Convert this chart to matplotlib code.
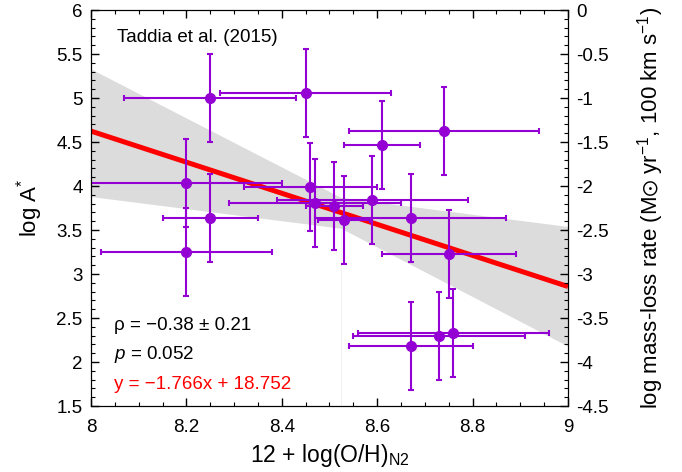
import numpy as np
import matplotlib
matplotlib.use("Agg")
import matplotlib.pyplot as plt
from matplotlib.ticker import MultipleLocator, FuncFormatter

plt.rcParams['font.family'] = ['Liberation Sans', 'DejaVu Sans']
plt.rcParams['mathtext.fontset'] = 'custom'
plt.rcParams['mathtext.rm'] = 'Liberation Sans'
plt.rcParams['mathtext.it'] = 'Liberation Sans:italic'
plt.rcParams['mathtext.fallback'] = 'stixsans'
plt.rcParams['axes.unicode_minus'] = False

# data
oh = [8.25, 8.45, 8.74, 8.61, 8.20, 8.25, 8.46, 8.47, 8.59, 8.51, 8.53, 8.67, 8.75, 8.20, 8.67, 8.73, 8.76]
logA = [5.00, 5.06, 4.63, 4.47, 4.03, 3.64, 3.99, 3.81, 3.84, 3.77, 3.61, 3.64, 3.23, 3.25, 2.18, 2.29, 2.33]
oh_err = [0.18, 0.18, 0.20, 0.08, 0.20, 0.10, 0.14, 0.18, 0.20, 0.06, 0.055, 0.20, 0.14, 0.18, 0.13, 0.18, 0.20]
logA_err = [0.5] * 17

slope = -1.766
intercept = 18.752

band_x = [8.0, 8.524, 9.0]
band_hi = [5.33, 3.87, 3.54]
band_lo = [3.88, 3.52, 2.18]

purple = '#9400D3'

fig = plt.figure(figsize=(6.82, 4.72), dpi=100)
ax = fig.add_axes([0.1334, 0.1398, 0.6994, 0.839])

ax.fill_between(band_x, band_lo, band_hi, color='#dcdcdc', lw=0, zorder=1)
ax.plot([band_x[1], band_x[1]], [1.5, band_lo[1]], color='#f0f0f0', lw=0.6, zorder=1)

xf = np.array([8.0, 9.0])
ax.plot(xf, slope * xf + intercept, color='red', lw=3.6, zorder=2, solid_capstyle='butt')

ax.errorbar(oh, logA, xerr=oh_err, yerr=logA_err, fmt='o', color=purple,
            ms=7, elinewidth=1.5, capsize=2.5, capthick=1.5, zorder=3)

ax.set_xlim(8, 9)
ax.set_ylim(1.5, 6)
ax.xaxis.set_major_locator(MultipleLocator(0.2))
ax.xaxis.set_minor_locator(MultipleLocator(0.05))
ax.yaxis.set_major_locator(MultipleLocator(0.5))
ax.yaxis.set_minor_locator(MultipleLocator(0.1))
fmt = FuncFormatter(lambda v, p: '%g' % round(v, 2))
ax.xaxis.set_major_formatter(fmt)
ax.yaxis.set_major_formatter(fmt)
ax.tick_params(which='both', direction='in', top=True, labelsize=13.5, pad=6)
ax.tick_params(axis='x', which='major', pad=9)
ax.tick_params(which='major', length=6, width=1)
ax.tick_params(which='minor', length=3, width=0.8)

ax2 = ax.twinx()
ax2.set_ylim(-4.5, 0)
ax2.yaxis.set_major_locator(MultipleLocator(0.5))
ax2.yaxis.set_minor_locator(MultipleLocator(0.1))
ax2.yaxis.set_major_formatter(fmt)
ax2.tick_params(which='both', direction='in', labelsize=13.5, pad=6)
ax2.tick_params(which='major', length=6, width=1)
ax2.tick_params(which='minor', length=3, width=0.8)

ax.set_xlabel(r'12 + log(O/H)$_{\rm N2}$', fontsize=16.5, labelpad=5)
ax.set_ylabel(r'log A$^{*}$', fontsize=16, labelpad=8)
ax2.set_ylabel(r'log mass-loss rate (M$\odot$ yr$^{-1}$, 100 km s$^{-1}$)', fontsize=16, labelpad=19)

ax.text(8.055, 5.69, 'Taddia et al. (2015)', fontsize=13.5, va='center')
ax.text(8.048, 2.42, 'ρ = −0.38 ± 0.21', fontsize=13.5, va='center')
ax.text(8.048, 2.08, r'$p$ = 0.052', fontsize=13.5, va='center')
ax.text(8.048, 1.74, 'y = −1.766x + 18.752', fontsize=13.5, va='center', color='red')

fig.savefig('out.png', dpi=100)
